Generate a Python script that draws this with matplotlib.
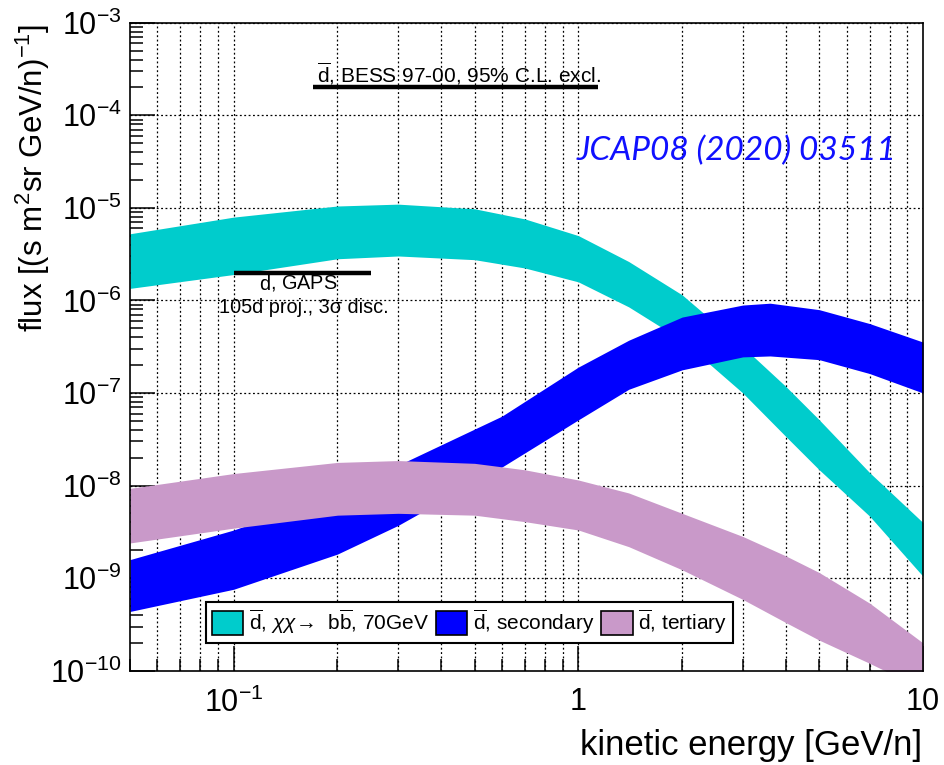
import numpy as np
import matplotlib
matplotlib.use('Agg')
import matplotlib.pyplot as plt
from matplotlib.patches import Patch

# fonts: Helvetica-like, with fallback for odd glyphs
plt.rcParams['font.family'] = ['Liberation Sans', 'DejaVu Sans']
plt.rcParams['mathtext.fontset'] = 'custom'
plt.rcParams['mathtext.rm'] = 'Liberation Sans'
plt.rcParams['mathtext.it'] = 'Liberation Sans:italic'
plt.rcParams['mathtext.bf'] = 'Liberation Sans:bold'

# ---------------- data (log10 of flux) ----------------
dm_x = [0.05, 0.1, 0.2, 0.3, 0.5, 0.7, 1, 1.4, 2, 3, 4, 5, 7, 10]
dm_hi = [-5.28, -5.10, -4.98, -4.96, -5.01, -5.12, -5.30, -5.58, -5.94, -6.50, -6.93, -7.29, -7.86, -8.40]
dm_lo = [-5.87, -5.72, -5.55, -5.52, -5.56, -5.65, -5.80, -6.07, -6.43, -7.00, -7.47, -7.83, -8.33, -8.98]

sec_x = [0.05, 0.1, 0.2, 0.3, 0.6, 1, 1.4, 2, 3, 3.6, 5, 7, 10]
sec_hi = [-8.80, -8.48, -8.08, -7.78, -7.25, -6.72, -6.43, -6.18, -6.05, -6.03, -6.10, -6.25, -6.45]
sec_lo = [-9.36, -9.12, -8.74, -8.43, -7.80, -7.29, -6.96, -6.75, -6.61, -6.60, -6.64, -6.79, -7.00]

ter_x = [0.05, 0.1, 0.2, 0.3, 0.5, 0.7, 1, 1.4, 2, 3, 4, 5, 7, 10]
ter_hi = [-8.03, -7.87, -7.75, -7.73, -7.76, -7.83, -7.94, -8.08, -8.30, -8.55, -8.76, -8.94, -9.27, -9.70]
ter_lo = [-8.62, -8.46, -8.32, -8.30, -8.32, -8.39, -8.48, -8.66, -8.91, -9.23, -9.48, -9.67, -9.92, -10.2]

bess_x = [0.17, 1.14]
bess_y = 2e-4
gaps_x = [0.1, 0.25]
gaps_y = 2e-6

band_colors = ['#00cccc', '#0000ff', '#c999c9']
legend_labels = [r'$\overline{\mathrm{d}}$, $\chi\chi$→  b$\overline{\mathrm{b}}$, 70GeV',
                 r'$\overline{\mathrm{d}}$, secondary',
                 r'$\overline{\mathrm{d}}$, tertiary']

xtick_vals = [0.1, 1, 10]
xtick_labels = [r'$10^{-1}$', '1', '10']
ytick_exp = list(range(-10, -2))

# ---------------- plotting ----------------
fig = plt.figure(figsize=(9.45, 7.65), dpi=100)
ax = fig.add_axes([130/945, 1 - 670.7/765, 793/945, 648/765])
ax.set_xscale('log')
ax.set_yscale('log')
ax.set_xlim(0.05, 10)
ax.set_ylim(1e-10, 1e-3)

# dotted grid behind the bands (major + minor in x, decades in y)
for d in range(-2, 1):
    for m in range(1, 10):
        v = m * 10.0**d
        if 0.05 < v < 10:
            ax.axvline(v, color='k', ls=(0, (1.5, 2)), lw=0.9, zorder=1)
for e in ytick_exp[1:]:
    ax.axhline(10.0**e, color='k', ls=(0, (1.5, 2)), lw=0.9, zorder=1)

for xs, lo, hi, c in [(dm_x, dm_lo, dm_hi, band_colors[0]),
                      (sec_x, sec_lo, sec_hi, band_colors[1]),
                      (ter_x, ter_lo, ter_hi, band_colors[2])]:
    ax.fill_between(xs, 10.0**np.array(lo), 10.0**np.array(hi), color=c, lw=0, zorder=2)

# limits / projections
ax.plot(bess_x, [bess_y, bess_y], color='k', lw=3.2, solid_capstyle='butt', zorder=3)
ax.text(0.174, 2.27e-4, r'$\overline{\mathrm{d}}$, BESS 97-00, 95% C.L. excl.',
        fontsize=15, ha='left', va='baseline', zorder=4)
ax.plot(gaps_x, [gaps_y, gaps_y], color='k', lw=3.2, solid_capstyle='butt', zorder=3)
ax.text(0.154, 1.32e-6, r'$\overline{\mathrm{d}}$, GAPS', fontsize=14.3,
        ha='center', va='baseline', zorder=4)
ax.text(0.160, 7.26e-7, '105d proj., 3σ disc.', fontsize=14.3,
        ha='center', va='baseline', zorder=4)

ax.text(0.991, 3.27e-5, 'JCAP08 (2020) 03511', fontsize=24, family='Lato',
        style='italic', color='#1010ff', ha='left', va='baseline', zorder=4)

# axes & ticks
ax.set_xticks(xtick_vals, labels=xtick_labels)
ax.set_xticks([m * 10.0**d for d in range(-2, 1) for m in range(2, 10)
               if 0.05 <= m * 10.0**d <= 10], minor=True)
ax.set_yticks([10.0**e for e in ytick_exp], labels=[r'$10^{%d}$' % e for e in ytick_exp])
ax.set_yticks([m * 10.0**e for e in ytick_exp[:-1] for m in range(2, 10)], minor=True)
ax.set_xticklabels([], minor=True)
ax.set_yticklabels([], minor=True)
ax.tick_params(which='both', direction='in', top=False, right=False, width=1.1, color='k')
ax.tick_params(which='major', length=18, labelsize=22)
ax.tick_params(which='minor', length=9)
ax.tick_params(axis='x', pad=12)
ax.tick_params(axis='y', pad=6)
for s in ax.spines.values():
    s.set_linewidth(1.2)

fig.text(922/945, 3/765, 'kinetic energy [GeV/n]', ha='right', va='bottom', fontsize=25)
fig.text(33/945, 1 - 24/765, r'flux [(s m$^{2}$sr GeV/n)$^{-1}$]', rotation=90,
         ha='center', va='top', fontsize=22.5)

handles = [Patch(facecolor=c, edgecolor='k', lw=1.2) for c in band_colors]
leg = ax.legend(handles, legend_labels, ncol=3, loc='lower left',
                bbox_to_anchor=(0.0958, 0.0434), fontsize=15, frameon=True,
                fancybox=False, edgecolor='k', framealpha=1, handlelength=1.5,
                handleheight=1.4, handletextpad=0.25, columnspacing=0.35,
                borderpad=0.3, borderaxespad=0)
leg.get_frame().set_linewidth(1.5)
leg.set_zorder(6)

fig.savefig('out.png', dpi=100)
